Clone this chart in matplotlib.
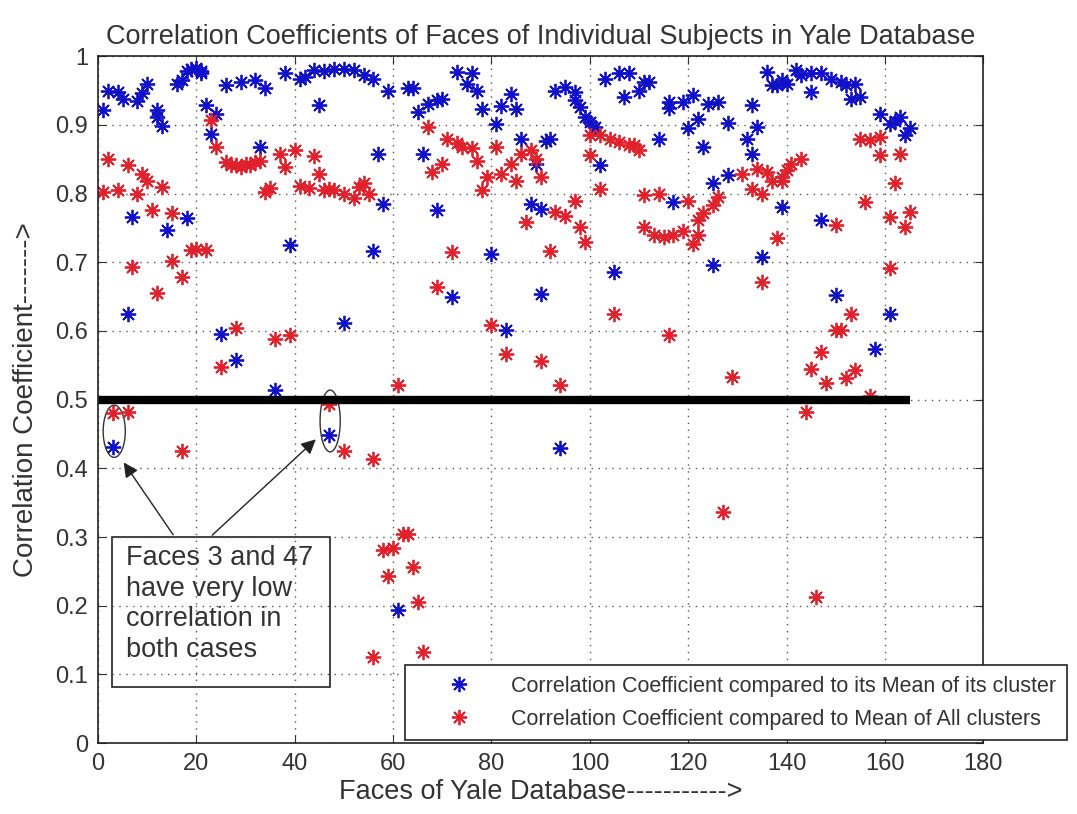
import matplotlib
matplotlib.use("Agg")
import matplotlib.pyplot as plt
from matplotlib.patches import Ellipse, Rectangle
from matplotlib.lines import Line2D

plt.rcParams['font.family'] = ['Liberation Sans', 'DejaVu Sans']

# blue: correlation to the mean of its own cluster (face index, value)
blue_face = [1, 2, 4, 5, 8, 9, 10, 12, 12, 13, 16, 17, 18, 19, 20, 21, 21, 22, 24, 23,
             26, 29, 32, 34, 38, 41, 45, 7, 14, 18, 39, 6, 25, 28, 36, 33, 3,
             42, 44, 46, 48, 50, 52, 54, 56, 59, 63, 64, 65, 67, 69, 70, 73, 76, 75,
             77, 78, 82, 84, 85, 81, 86, 89, 91, 57, 66, 58, 69, 56, 80, 72, 90, 50,
             83, 47, 61, 88, 90,
             93, 95, 97, 97, 98, 99, 100, 101, 92, 102, 103, 106, 108, 111, 112, 107,
             110, 114, 116, 116, 119, 121, 120, 122, 124, 126, 123, 128, 133, 134, 132,
             133, 136, 138, 125, 128, 117, 105, 125, 135, 94,
             137, 139, 140, 142, 143, 145, 145, 147, 149, 151, 152, 154, 153, 155, 159,
             161, 162, 163, 165, 164, 139, 147, 150, 161, 158]
blue_val = [.921, .950, .948, .938, .935, .946, .960, .921, .911, .899, .960, .965, .978, .982,
            .983, .979, .975, .929, .916, .887, .958, .963, .965, .953, .975, .967, .929,
            .766, .747, .764, .725, .625, .596, .558, .514, .868, .431,
            .970, .980, .978, .982, .982, .980, .972, .967, .950, .953, .953, .919, .931,
            .936, .938, .977, .975, .960, .950, .923, .928, .945, .923, .901, .879, .843,
            .877, .858, .858, .785, .776, .717, .712, .650, .654, .611, .601, .448, .194,
            .785, .778,
            .950, .955, .948, .936, .926, .911, .904, .897, .880, .841, .967, .975, .975,
            .963, .963, .940, .950, .880, .934, .924, .934, .943, .895, .909, .931, .934,
            .868, .902, .929, .897, .880, .858, .977, .958, .815, .827, .788, .686, .696,
            .708, .429,
            .958, .965, .960, .980, .973, .948, .975, .975, .967, .963, .958, .960, .938,
            .941, .916, .901, .906, .911, .895, .885, .780, .761, .652, .625, .574]

# red: correlation to the mean of all clusters (face index, value)
red_face = [2, 6, 1, 4, 8, 9, 10, 13, 11, 15, 7, 15, 17, 12, 19, 20, 22, 23, 24, 26, 27,
            28, 29, 30, 31, 32, 33, 34, 35, 37, 38, 40, 41, 43, 44, 45, 46, 28, 36, 39, 25,
            3, 6, 17,
            47, 50, 56, 61, 62, 63, 58, 60, 59, 64, 65, 56, 66,
            47, 48, 50, 52, 53, 54, 55, 67, 70, 68, 71, 73, 74, 76, 77, 81, 79, 78, 82,
            85, 84, 86, 88, 89, 90, 87, 72, 92, 69, 80, 83, 90,
            100, 102, 104, 106, 108, 109, 110, 100, 102, 93, 95, 97, 98, 99, 111, 114,
            111, 113, 115, 117, 119, 120, 122, 123, 125, 126, 121, 122, 131, 134, 136,
            133, 105, 116, 94, 129, 127,
            137, 139, 139, 140, 141, 143, 135, 138, 135, 156, 155, 157, 159, 159, 163,
            162, 161, 164, 165, 150, 161, 153, 150, 151, 147, 145, 148, 152, 154, 157,
            144, 146]
red_val = [.851, .841, .803, .805, .800, .829, .819, .810, .776, .771, .693, .702, .679, .655,
           .718, .720, .718, .907, .868, .846, .842, .841, .838, .843, .841, .846, .848, .803,
           .808, .858, .839, .863, .811, .808, .855, .829, .805, .604, .589, .594, .548,
           .480, .482, .426,
           .494, .426, .414, .521, .305, .305, .281, .284, .244, .257, .206, .125, .133,
           .807, .805, .800, .793, .810, .815, .800, .897, .843, .831, .880, .873, .868,
           .866, .848, .868, .824, .805, .829, .819, .843, .858, .863, .851, .824, .758,
           .715, .717, .664, .608, .567, .557,
           .885, .885, .880, .875, .870, .870, .863, .856, .807, .773, .768, .789, .751,
           .730, .798, .800, .751, .739, .737, .739, .746, .789, .761, .771, .783, .795,
           .727, .739, .829, .836, .831, .807, .625, .594, .521, .533, .336,
           .819, .819, .824, .834, .843, .851, .800, .736, .672, .788, .880, .878, .882,
           .856, .858, .815, .766, .751, .773, .754, .691, .625, .601, .601, .569, .545,
           .524, .531, .543, .506, .482, .213]

threshold = 0.5
n_faces = 165
x_ticks = list(range(0, 181, 20))
y_ticks = [i / 10 for i in range(11)]
y_tick_labels = ['0', '0.1', '0.2', '0.3', '0.4', '0.5', '0.6', '0.7', '0.8', '0.9', '1']

star = (8, 2, 0)
txt = '#333333'

fig = plt.figure(figsize=(10.77, 8.14), dpi=100)
ax = fig.add_axes([0.091, 0.087, 0.822, 0.844])

ax.plot(blue_face, blue_val, linestyle='none', marker=star, markersize=11,
        markeredgewidth=1.3, color='#1010c8')
ax.plot(red_face, red_val, linestyle='none', marker=star, markersize=11,
        markeredgewidth=1.3, color='#e0202a')
ax.plot([0, n_faces], [threshold, threshold], color='black', linewidth=6,
        solid_capstyle='butt')

# circles round faces 3 and 47
ax.add_patch(Ellipse((3.3, 0.454), 4.5, 0.076, fill=False, ec='#333333', lw=1))
ax.add_patch(Ellipse((47.2, 0.469), 4.1, 0.09, fill=False, ec='#333333', lw=1))

ax.add_patch(Rectangle((2.8, 0.082), 44.4, 0.218, fill=False, ec='#222222', lw=1.2))
ax.text(5.7, 0.288, 'Faces 3 and 47\nhave very low\ncorrelation in\nboth cases',
        fontsize=19.5, va='top', ha='left', linespacing=1.22, color=txt)
ax.annotate('', xy=(4.9, 0.412), xytext=(15.6, 0.30),
            arrowprops=dict(arrowstyle='-|>', color='#222222', lw=1, mutation_scale=22))
ax.annotate('', xy=(44.7, 0.445), xytext=(22.8, 0.30),
            arrowprops=dict(arrowstyle='-|>', color='#222222', lw=1, mutation_scale=22))

ax.set_xlim(0, 180)
ax.set_ylim(0, 1)
ax.set_xticks(x_ticks)
ax.set_yticks(y_ticks)
ax.set_yticklabels(y_tick_labels)
ax.tick_params(direction='in', top=True, right=True, length=6, labelsize=17,
               colors=txt, pad=7)
ax.grid(True, linestyle=(0, (1, 4)), color='#555555', linewidth=1)
for s in ax.spines.values():
    s.set_linewidth(1.2)
    s.set_color('#222222')

ax.set_title('Correlation Coefficients of Faces of Individual Subjects in Yale Database',
             fontsize=19.5, color=txt, pad=9)
ax.set_xlabel('Faces of Yale Database----------->', fontsize=19.5, color=txt, labelpad=3)
ax.set_ylabel('Correlation Coefficient------->', fontsize=20, color=txt, labelpad=12)

handles = [Line2D([], [], linestyle='none', marker=star, markersize=11,
                  markeredgewidth=1.3, color='#1010c8'),
           Line2D([], [], linestyle='none', marker=star, markersize=11,
                  markeredgewidth=1.3, color='#e0202a')]
leg = ax.legend(handles, ['Correlation Coefficient compared to its Mean of its cluster',
                          'Correlation Coefficient compared to Mean of All clusters'],
                loc='lower left', bbox_to_anchor=(0.347, 0.004), fontsize=15.5,
                fancybox=False, framealpha=1, edgecolor='#222222',
                handlelength=4.0, handletextpad=0.4, borderpad=0.5,
                labelspacing=0.55, borderaxespad=0)
leg.get_frame().set_linewidth(1.2)
for t in leg.get_texts():
    t.set_color(txt)

fig.savefig('out.png', dpi=100)
